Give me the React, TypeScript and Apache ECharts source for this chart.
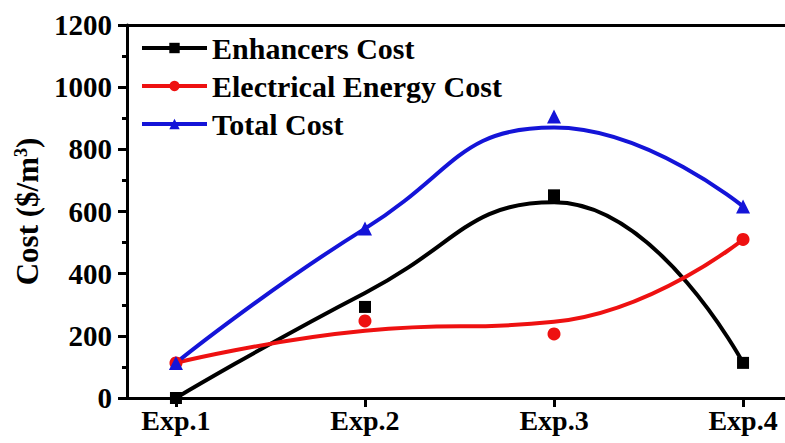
import React, { useEffect, useRef } from "react";
import * as echarts from "echarts";

const categories = ["Exp.1", "Exp.2", "Exp.3", "Exp.4"];
const categoryPositions = [1, 2, 3, 4];

// measured data points (markers)
const enhancersCost = [0, 293, 652, 113];
const electricalCost = [113, 248, 206, 510];
const totalCost = [113, 545, 906, 616];

// fitted curve values read at each experiment
const enhancersFit = [0, 338, 630, 113];
const electricalFit = [113, 216, 245, 510];
const totalFit = [113, 545, 870, 616];

const yTicks = [0, 200, 400, 600, 800, 1000, 1200];

const seriesNames = ["Enhancers Cost", "Electrical Energy Cost", "Total Cost"];
const colors = ["#000000", "#ee1111", "#1414d8"];
const symbols = ["rect", "circle", "triangle"];
const symbolSizes = [12, 13, 14];

const FONT = "Liberation Serif";

export default function App() {
  const ref = useRef<HTMLDivElement>(null);

  useEffect(() => {
    if (!ref.current) return;
    const chart = echarts.init(ref.current, undefined, { renderer: "svg" });
    const fits = [enhancersFit, electricalFit, totalFit];
    const points = [enhancersCost, electricalCost, totalCost];

    const series: any[] = [];
    fits.forEach((f, i) => {
      series.push({
        type: "line",
        name: seriesNames[i],
        xAxisIndex: 0,
        data: f.map((v, j) => [categoryPositions[j], v]),
        smooth: 0.5,
        symbol: symbols[i],
        showSymbol: false,
        lineStyle: { color: colors[i], width: 4 },
        itemStyle: { color: colors[i] },
        z: 2,
      });
    });
    points.forEach((p, i) => {
      series.push({
        type: "scatter",
        name: seriesNames[i] + " points",
        xAxisIndex: 0,
        data: p.map((v, j) => [categoryPositions[j], v]),
        symbol: symbols[i],
        symbolSize: symbolSizes[i],
        itemStyle: { color: colors[i], opacity: 1 },
        z: 3,
      });
    });

    const axisLineStyle = { color: "#000", width: 3 };

    chart.setOption({
      animation: false,
      backgroundColor: "#ffffff",
      textStyle: { fontFamily: FONT },
      grid: { left: 127, right: 0, top: 25, bottom: 45 },
      legend: {
        data: seriesNames,
        orient: "vertical",
        left: 135,
        top: 28,
        itemWidth: 65,
        itemHeight: 13,
        itemGap: 8,
        lineStyle: { width: 4 },
        textStyle: { fontFamily: FONT, fontWeight: "bold", fontSize: 30, color: "#000", lineHeight: 30 },
      },
      xAxis: [
        {
          type: "value",
          min: 0.741,
          max: 4.222,
          axisLine: { show: true, onZero: false, lineStyle: axisLineStyle },
          axisTick: { show: true, length: 9, lineStyle: axisLineStyle, customValues: categoryPositions },
          axisLabel: {
            customValues: categoryPositions,
            formatter: (v: number) => categories[Math.round(v) - 1] ?? "",
            fontFamily: FONT,
            fontWeight: "bold",
            fontSize: 28,
            color: "#000",
            margin: 8,
          },
          splitLine: { show: false },
        },
        {
          type: "value",
          position: "top",
          min: 0.741,
          max: 4.222,
          axisLine: { show: true, onZero: false, lineStyle: axisLineStyle },
          axisTick: { show: false },
          axisLabel: { show: false },
          splitLine: { show: false },
        },
      ],
      yAxis: {
        type: "value",
        min: yTicks[0],
        max: yTicks[yTicks.length - 1],
        interval: 200,
        name: "{a|Cost ($/m}{s|3}{a|)}",
        nameLocation: "middle",
        nameGap: 84,
        nameTextStyle: {
          rich: {
            a: { fontFamily: FONT, fontWeight: "bold", fontSize: 31, color: "#000" },
            s: { fontFamily: FONT, fontWeight: "bold", fontSize: 18, color: "#000", verticalAlign: "top", padding: [0, 0, 12, 0] },
          },
        },
        axisLine: { show: true, onZero: false, lineStyle: axisLineStyle },
        axisTick: { show: true, length: 9, lineStyle: axisLineStyle },
        minorTick: { show: true, splitNumber: 2, length: 5, lineStyle: axisLineStyle },
        axisLabel: {
          formatter: (v: number) => String(v),
          fontFamily: FONT,
          fontWeight: "bold",
          fontSize: 29,
          color: "#000",
          margin: 15,
        },
        splitLine: { show: false },
        minorSplitLine: { show: false },
      },
      series,
    });
    return () => chart.dispose();
  }, []);

  return (
    <div style={{ position: "absolute", left: 0, top: 0, width: 785, height: 443, overflow: "hidden", background: "#fff" }}>
      <div ref={ref} style={{ width: 785, height: 443 }} />
    </div>
  );
}
